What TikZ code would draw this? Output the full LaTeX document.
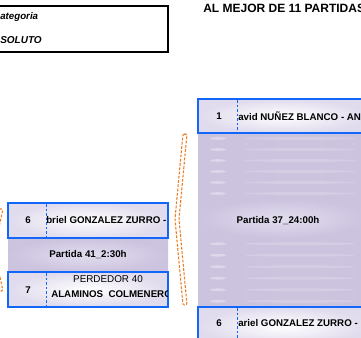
\documentclass[tikz,border=0pt]{standalone}
\usepackage{fontspec}
\setmainfont{Liberation Sans}
\definecolor{cellblue}{RGB}{18,102,250}
\definecolor{bandlilac}{RGB}{204,195,223}
\definecolor{stripelight}{RGB}{226,221,238}
\definecolor{celllight}{RGB}{224,219,237}
\definecolor{bracketorange}{RGB}{238,122,30}

\begin{document}
\begin{tikzpicture}[x=0.75pt,y=0.75pt,yscale=-1,xscale=1,
  cellbox/.style={draw=cellblue,line width=2pt,inner color=white,outer color=celllight},
  bandbox/.style={inner color=stripelight,outer color=bandlilac},
  stripe/.style={top color=bandlilac,middle color=stripelight,bottom color=bandlilac},
  divider/.style={draw=cellblue,line width=0.6pt,dash pattern=on 2pt off 1.4pt},
  bracket/.style={draw=bracketorange,line width=0.8pt,dash pattern=on 2pt off 1.2pt,rounded corners=1pt},
  numtxt/.style={inner sep=0.75pt,font=\fontsize{7.3}{8}\selectfont\bfseries},
  nametxt/.style={anchor=west,inner sep=0.75pt,font=\fontsize{7.3}{8}\selectfont\bfseries},
  gametxt/.style={inner sep=0.75pt,font=\fontsize{7.3}{8}\selectfont\bfseries}]
\useasboundingbox (0,0) rectangle (361,338);
\clip (0,0) rectangle (361,338);

%Shape: Rectangle [category box]
\draw [line width=1.5pt] (-10,6) -- (168,6) -- (168,52) -- (-10,52) ;
% Text Node
\draw (-1,17) node (cat) [anchor=west][inner sep=0.75pt] [font=\fontsize{7.3}{8}\selectfont\bfseries\itshape] {ategoria};
% Text Node
\draw (-1,40) node (abs) [anchor=west][inner sep=0.75pt] [font=\fontsize{7.5}{8}\selectfont\bfseries\itshape] {SOLUTO};
% Text Node
\draw (202,8) node (title) [anchor=west][inner sep=0.75pt] [font=\fontsize{9}{10}\selectfont\bfseries] {AL MEJOR DE 11 PARTIDAS};

%Shape: stripes [right match]
\foreach \y in {133,144,155,166,177,188} {
  \fill [stripe] (198,\y) rectangle (365,\y+11);
  \fill [white,opacity=0.35] (218,\y+5.5) ellipse (8 and 1.3);
  \fill [white,opacity=0.18] (300,\y+5.5) ellipse (55 and 1.4);
}
\foreach \y in {238,249.5,261,272.5,284,295.5} {
  \fill [stripe] (198,\y) rectangle (365,\y+11.5);
  \fill [white,opacity=0.35] (218,\y+5.75) ellipse (8 and 1.3);
  \fill [white,opacity=0.18] (300,\y+5.75) ellipse (55 and 1.4);
}
%Shape: Rectangle [game band]
\fill [bandbox] (198,199) rectangle (365,238);
% Text Node
\draw (278,221) node (g37) [gametxt] {Partida 37\_24:00h};

%Shape: Rectangle [player 1]
\draw [cellbox] (198,99) rectangle (368,133);
\draw [divider] (237,100) -- (237,132);
\draw (219,116) node (n1) [numtxt] {1};
\draw (237,116) node (p1) [nametxt] {avid NUÑEZ BLANCO - AN};
%Shape: Rectangle [player 6, right]
\draw [cellbox] (198,307) rectangle (368,345);
\draw [divider] (237,308) -- (237,338);
\draw (219,323) node (n6b) [numtxt] {6};
\draw (237,323) node (p6b) [nametxt] {ariel GONZALEZ ZURRO -};

%Shape: Rectangle [left match]
\fill [bandbox] (8,238) rectangle (168,272);
\draw (88,255) node (g41) [gametxt] {Partida 41\_2:30h};
\draw [cellbox] (8,203) rectangle (168,238);
\draw [divider] (46,204) -- (46,237);
\draw (28,220) node (n6a) [numtxt] {6};
\begin{scope}
\clip (46,204) rectangle (167,237);
\draw (45,220) node (p6a) [nametxt] {briel GONZALEZ ZURRO -};
\end{scope}
\draw [cellbox] (8,272) rectangle (168,307);
\draw [divider] (46,273) -- (46,306);
\draw (28,290) node (n7) [numtxt] {7};
\draw (108,279) node (lose) [inner sep=0.75pt] [font=\fontsize{7.4}{8}\selectfont] {PERDEDOR 40};
\begin{scope}
\clip (46,273) rectangle (167,306);
\draw (50,294) node (p7) [nametxt] {ALAMINOS\ \ COLMENERO};
\end{scope}

%Shape: brackets
\draw [bracket] (183,134) -- (187,134) -- (179,219) -- (187,305) -- (183,305) -- (175,219) -- cycle ;
\draw [bracket] (-2,209) -- (3,209) -- (-6,250) -- (3,291) -- (-2,291) -- (-11,250) -- cycle ;

\end{tikzpicture}
\end{document}
